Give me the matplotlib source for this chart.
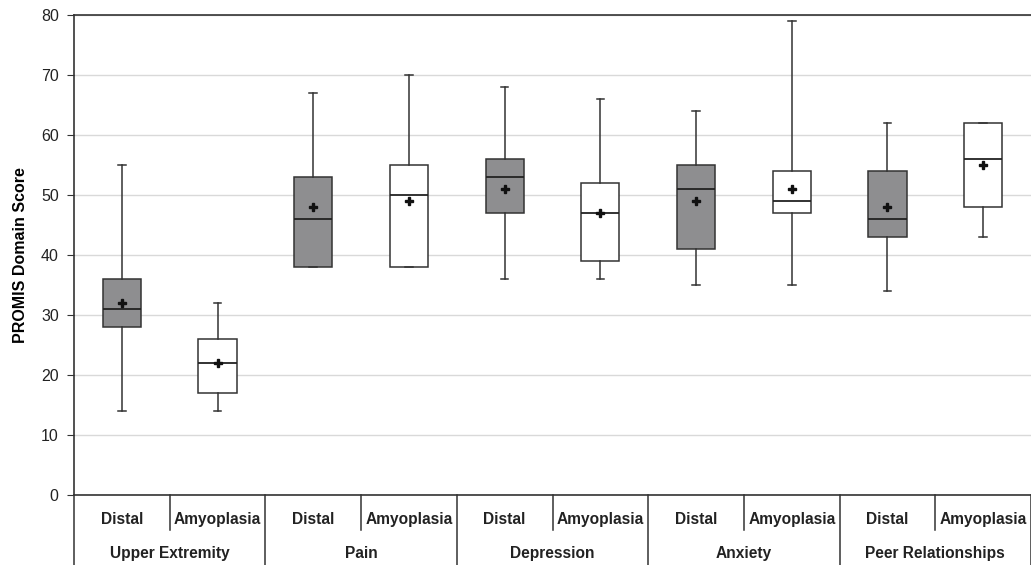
import numpy as np
import matplotlib.pyplot as plt

groups = ["Upper Extremity", "Pain", "Depression", "Anxiety", "Peer Relationships"]
subgroups = ["Distal", "Amyoplasia"]

# per box, order: UE-D, UE-A, Pain-D, Pain-A, Dep-D, Dep-A, Anx-D, Anx-A, Peer-D, Peer-A
mins    = [14, 14, 38, 38, 36, 36, 35, 35, 34, 43]
q1s     = [28, 17, 38, 38, 47, 39, 41, 47, 43, 48]
medians = [31, 22, 46, 50, 53, 47, 51, 49, 46, 56]
means   = [32, 22, 48, 49, 51, 47, 49, 51, 48, 55]
q3s     = [36, 26, 53, 55, 56, 52, 55, 54, 54, 62]
maxs    = [55, 32, 67, 70, 68, 66, 64, 79, 62, 62]

plt.rcParams['font.family'] = ['Liberation Sans', 'DejaVu Sans']

fig = plt.figure(figsize=(10.31, 5.65), dpi=100)
ax = fig.add_axes([74 / 1031, 70 / 565, 957 / 1031, 480 / 565])

stats = []
for i in range(len(mins)):
    stats.append(dict(whislo=mins[i], q1=q1s[i], med=medians[i], mean=means[i],
                      q3=q3s[i], whishi=maxs[i]))

pos = np.arange(len(stats))
bp = ax.bxp(stats, positions=pos, widths=0.4, showmeans=True, patch_artist=True,
            showfliers=False, capwidths=0.08,
            boxprops=dict(edgecolor='#333333', linewidth=1.1),
            medianprops=dict(color='#222222', linewidth=1.3),
            whiskerprops=dict(color='#333333', linewidth=1.1),
            capprops=dict(color='#333333', linewidth=1.1),
            meanprops=dict(marker='P', markerfacecolor='#111111', markeredgecolor='#111111',
                           markersize=6))
for i, b in enumerate(bp['boxes']):
    b.set_facecolor('#8e8e90' if i % 2 == 0 else 'white')

ax.set_xlim(-0.5, len(stats) - 0.5)
ax.set_ylim(0, 80)
ax.set_yticks(range(0, 81, 10))
ax.yaxis.grid(True, color='#d9d9d9', linewidth=1)
ax.set_axisbelow(True)
ax.tick_params(axis='y', labelsize=11.5, length=5, pad=6, color='#333333', labelcolor='#222222')
ax.set_xticks([])
ax.spines['right'].set_visible(False)
for s in ['top', 'left', 'bottom']:
    ax.spines[s].set_color('#333333')
    ax.spines[s].set_linewidth(1.2)
ax.set_ylabel("PROMIS Domain Score", fontsize=11.5, fontweight='bold', labelpad=9)

tr = ax.get_xaxis_transform()
# category separators
for g in range(len(groups) + 1):
    x = g * 2 - 0.5
    ax.plot([x, x], [0, -0.146], transform=tr, clip_on=False, color='#333333', lw=1.1)
for g in range(len(groups)):
    x = g * 2 + 0.5
    ax.plot([x, x], [0, -0.073], transform=tr, clip_on=False, color='#333333', lw=1.1)
    for k, name in enumerate(subgroups):
        ax.text(g * 2 + k, -0.052, name, transform=tr, ha='center', va='center',
                fontsize=11.2, fontweight='bold', color='#222222')
    ax.text(g * 2 + 0.5, -0.121, groups[g], transform=tr, ha='center', va='center',
            fontsize=11.2, fontweight='bold', color='#222222')

fig.savefig("out.png", dpi=100)
